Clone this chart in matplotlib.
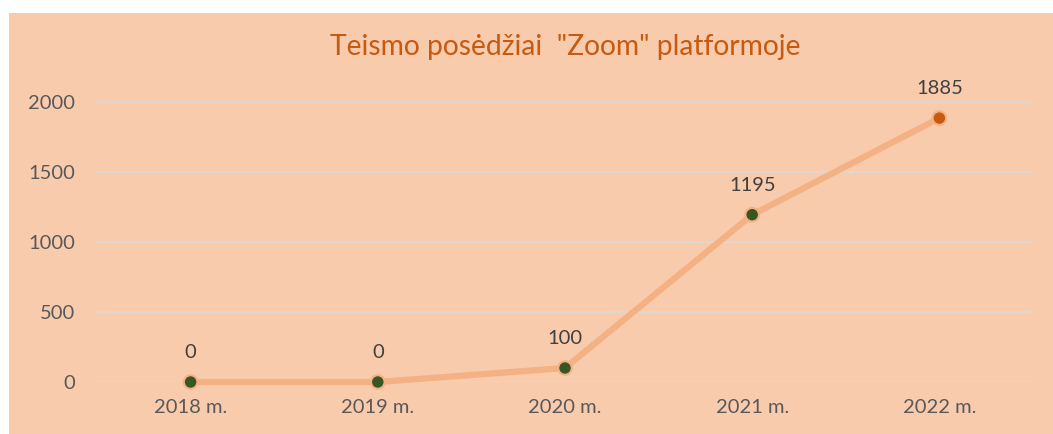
import matplotlib.pyplot as plt
from matplotlib.patches import Rectangle

years = ['2018 m.', '2019 m.', '2020 m.', '2021 m.', '2022 m.']
sessions = [0, 0, 100, 1195, 1885]
marker_colors = ['#375623', '#375623', '#375623', '#375623', '#C55A11']

plt.rcParams['font.family'] = ['Lato', 'DejaVu Sans']

W, H = 1053, 434
fig = plt.figure(figsize=(W / 100, H / 100), dpi=100)
fig.patch.set_facecolor('white')
fig.patches.append(Rectangle((9 / W, 0), 1 - 9 / W, 1 - 13 / H, transform=fig.transFigure,
                             facecolor='#F8CBAD', edgecolor='none', zorder=-5))

ax = fig.add_axes([97 / W, 1 - 382 / H, (1033 - 97) / W, (382 - 102) / H], zorder=2)
ax.set_facecolor('none')

x = range(len(years))
ax.plot(x, sessions, color='#F4B183', lw=4.5, solid_capstyle='round', zorder=2, clip_on=False)
ax.scatter(x, sessions, s=95, c=marker_colors, edgecolors='#F4B183', linewidths=1.5,
           zorder=3, clip_on=False)

for xi, v in zip(x, sessions):
    ax.annotate(str(v), (xi, v), xytext=(0, 21), textcoords='offset points',
                ha='center', va='center', fontsize=14.5, color='#404040')

ax.set_xlim(-0.5, len(years) - 0.5)
ax.set_ylim(0, 2000)
ax.set_yticks([0, 500, 1000, 1500, 2000])
ax.set_xticks(list(x))
ax.set_xticklabels(years)
ax.tick_params(length=0, labelsize=14.5, colors='#595959')
ax.tick_params(axis='x', pad=12)
ax.tick_params(axis='y', pad=16)
ax.grid(axis='y', color='#D9D9D9', lw=1.2)
ax.set_axisbelow(True)
for s in ax.spines.values():
    s.set_visible(False)

fig.text(565 / W, 1 - 47 / H, 'Teismo posėdžiai  "Zoom" platformoje',
         ha='center', va='center', fontsize=20.3, color='#C55A11')

fig.savefig('out.png', dpi=100)
